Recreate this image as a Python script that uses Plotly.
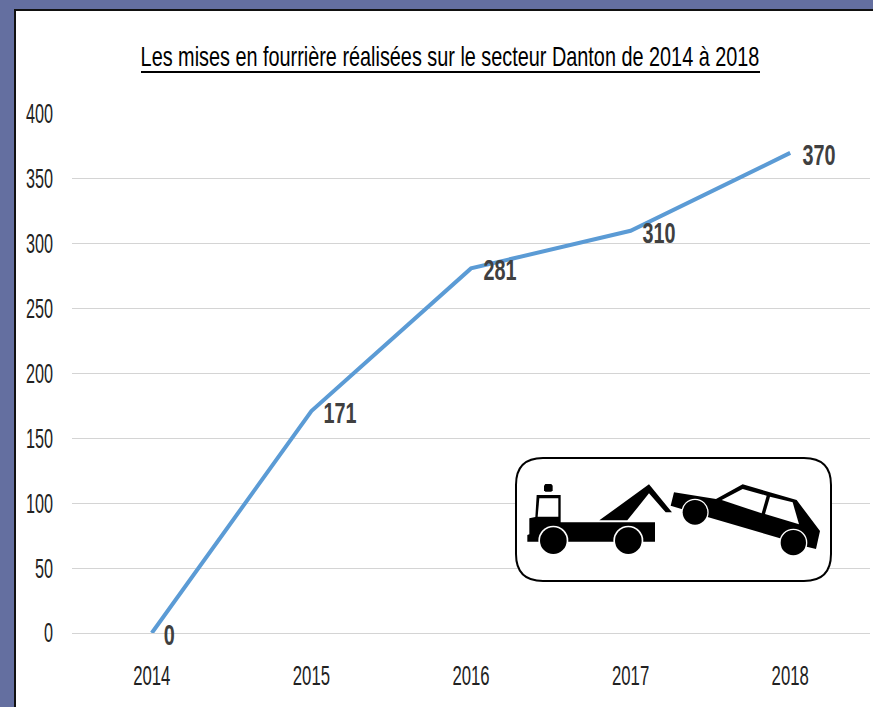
import plotly.graph_objects as go

years = ["2014", "2015", "2016", "2017", "2018"]
fourrieres = [0, 171, 281, 310, 370]
y_ticks = [0, 50, 100, 150, 200, 250, 300, 350, 400]
title_text = "Les mises en fourrière réalisées sur le secteur Danton de 2014 à 2018"

W, H = 873, 707
L, R, T, B = 72, 870, 114, 633
FONT = "Liberation Sans"


def px(x):
    return (x - L) / (R - L)


def py(y):
    return (B - y) / (B - T)


def zx(x):
    return px(x / 3 + 500)


def zy(y):
    return py(y / 3 + 445)


def poly(points, fill="black"):
    d = "M" + " L".join(f"{zx(a):.5f},{zy(b):.5f}" for a, b in points) + " Z"
    return dict(type="path", xref="paper", yref="paper", path=d, fillcolor=fill,
                line=dict(width=0), layer="above")


def circle(cx, cy, r, fill="black"):
    return dict(type="circle", xref="paper", yref="paper",
                x0=zx(cx - r), x1=zx(cx + r), y0=zy(cy + r), y1=zy(cy - r),
                fillcolor=fill, line=dict(width=0), layer="above")


def rounded(x0, y0, x1, y1, r):
    d = (f"M{px(x0+r):.5f},{py(y0):.5f} L{px(x1-r):.5f},{py(y0):.5f} "
         f"Q{px(x1):.5f},{py(y0):.5f} {px(x1):.5f},{py(y0+r):.5f} "
         f"L{px(x1):.5f},{py(y1-r):.5f} Q{px(x1):.5f},{py(y1):.5f} {px(x1-r):.5f},{py(y1):.5f} "
         f"L{px(x0+r):.5f},{py(y1):.5f} Q{px(x0):.5f},{py(y1):.5f} {px(x0):.5f},{py(y1-r):.5f} "
         f"L{px(x0):.5f},{py(y0+r):.5f} Q{px(x0):.5f},{py(y0):.5f} {px(x0+r):.5f},{py(y0):.5f} Z")
    return dict(type="path", xref="paper", yref="paper", path=d, fillcolor="white",
                line=dict(color="black", width=2), layer="above")


shapes = [
    # white panel with dark frame
    dict(type="rect", xref="paper", yref="paper", x0=px(15), x1=px(880), y0=py(720), y1=py(10),
         fillcolor="white", line=dict(color="#111111", width=2), layer="below"),
    # title underline
    dict(type="line", xref="paper", yref="paper", x0=px(141), x1=px(760), y0=py(72), y1=py(72),
         line=dict(color="black", width=2), layer="above"),
    # tow-truck sign
    rounded(516, 458, 831, 581, 27),
    poly([(82, 290), (82, 270), (88, 268), (88, 220), (106, 216), (110, 150), (182, 150),
          (182, 232), (465, 232), (465, 290)]),
    poly([(118, 160), (175, 160), (175, 215), (113, 215)], "white"),
    poly([(132, 122), (136, 117), (154, 117), (158, 122), (158, 136), (154, 140), (136, 140), (132, 136)]),
    poly([(298, 226), (447, 118), (516, 202), (497, 202), (447, 145), (382, 226)]),
    circle(160, 287, 45, "white"),
    circle(160, 287, 40),
    circle(385, 287, 45, "white"),
    circle(385, 287, 40),
    poly([(522, 142), (648, 162), (728, 118), (890, 165), (960, 258), (948, 312), (920, 305),
          (840, 280), (620, 215), (512, 182)]),
    poly([(665, 165), (728, 132), (800, 152), (785, 205)], "white"),
    poly([(810, 155), (878, 172), (897, 238), (795, 207)], "white"),
    circle(585, 202, 41, "white"),
    circle(585, 202, 37),
    circle(880, 293, 42, "white"),
    circle(880, 293, 38),
]

annotations = [
    dict(xref="paper", yref="paper", x=px(450), y=py(57), text=title_text, showarrow=False,
         xanchor="center", yanchor="middle", font=dict(family=FONT, size=27, color="black"))
]
for i, v in enumerate(fourrieres):
    annotations.append(dict(xref="x", yref="y", x=i, y=v, text=str(v), showarrow=False,
                            xanchor="center", yanchor="middle",
                            xshift=12 + len(str(v)) * 5.5, yshift=-1.5,
                            font=dict(family=FONT, size=30, color="#404040", weight="bold")))

fig = go.Figure(go.Scatter(x=years, y=fourrieres, mode="lines", cliponaxis=False,
                           line=dict(color="#5B9BD5", width=4), hoverinfo="skip"))
fig.update_layout(
    width=W, height=H, autosize=False,
    margin=dict(l=L, r=W - R, t=T, b=H - B, pad=0),
    paper_bgcolor="#646FA0", plot_bgcolor="rgba(0,0,0,0)",
    showlegend=False, shapes=shapes, annotations=annotations,
    font=dict(family=FONT, size=27, color="#222222"),
)
fig.update_xaxes(type="category", categoryorder="array", categoryarray=years, range=[-0.5, 4.5],
                 showgrid=False, showline=False, ticks="", ticklabelstandoff=24)
fig.update_yaxes(range=[0, 400], tickvals=y_ticks, showgrid=True, gridcolor="#D4D4D4", gridwidth=1,
                 zeroline=True, zerolinecolor="#D4D4D4", zerolinewidth=1, ticks="", ticklabelstandoff=18)

# Condense the glyphs horizontally (no narrow font is installed); text stays real text.
condense = """
document.body.style.margin='0';document.body.style.overflow='hidden';
function squeeze(sel, f){document.querySelectorAll(sel).forEach(function(t){
  var n=t.getComputedTextLength();
  t.setAttribute('lengthAdjust','spacingAndGlyphs');
  t.setAttribute('textLength', n*f);
});}
squeeze('.xtick text',0.62);
squeeze('.ytick text',0.6);
document.querySelectorAll('.annotation-text').forEach(function(t,i){
  var n=t.getComputedTextLength();
  if(t.textContent.length>10){
    var b=t.getBBox(), c=b.x+b.width/2, f=619/n;
    t.setAttribute('transform','translate('+c+',0) scale('+f+',1) translate('+(-c)+',0)');
  } else {
    t.setAttribute('lengthAdjust','spacingAndGlyphs');
    t.setAttribute('textLength', n*0.66);
  }
});
"""
fig.write_html("out.html", post_script=condense, config={"displayModeBar": False})
